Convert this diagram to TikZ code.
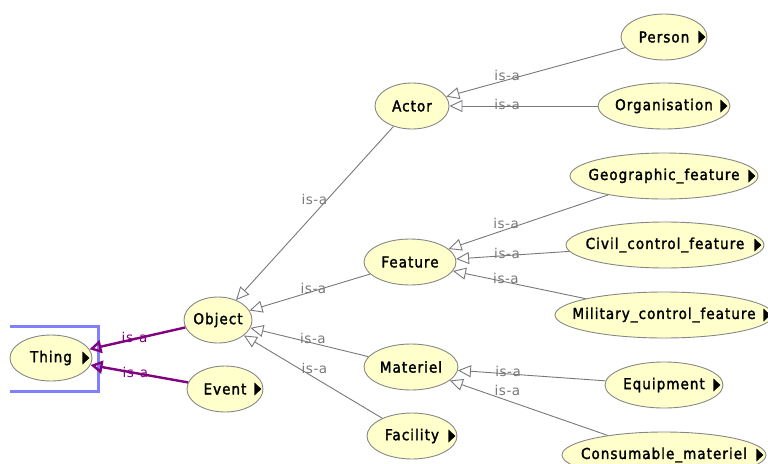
\documentclass[tikz,border=0pt]{standalone}
\usepackage{fontspec}
\usetikzlibrary{shapes.geometric,arrows.meta}
\newfontfamily\clsfont[LetterSpace=7, FakeBold=2]{DejaVu Sans Condensed}
\newfontfamily\isafont[LetterSpace=4]{DejaVu Sans}
\definecolor{clsfill}{RGB}{255,255,204}
\definecolor{clsline}{RGB}{135,135,135}
\definecolor{isagray}{RGB}{120,120,120}
\definecolor{isapurple}{RGB}{128,0,128}
\definecolor{selblue}{RGB}{128,128,255}

\begin{document}
\begin{tikzpicture}[x=1pt, y=-1pt,
    cls/.style={ellipse, draw=clsline, fill=clsfill, line width=0.9pt,
        minimum height=46pt, minimum width=#1, inner sep=0pt},
    txt/.style={font=\clsfont\fontsize{15}{18}\selectfont, text=black, inner sep=0pt},
    isa/.style={draw=isagray, line width=0.9pt,
        -{Triangle[open, length=13pt, width=12pt]}},
    topisa/.style={draw=isapurple, line width=2.4pt,
        -{Triangle[open, length=12pt, width=13pt]}},
    lbl/.style={font=\isafont\fontsize{13.5}{16}\selectfont, text=isagray, inner sep=0pt}]
    \useasboundingbox (0,0) rectangle (768,463);
    \clip (0,0) rectangle (768,463);

    % selection box round Thing
    \draw[selblue, line width=3pt] (10,326.5) -- (98.5,326.5) -- (98.5,391.5) -- (10,391.5);

    \node[cls=82pt, label={[txt]center:Thing}] (thing) at (51,358) {};
    \node[cls=68pt, label={[txt]center:Object}] (object) at (218,320) {};
    \node[cls=76pt, label={[txt]center:Event}] (event) at (225,389) {};

    \node[cls=74pt, label={[txt]center:Actor}] (actor) at (412,106) {};
    \node[cls=92pt, label={[txt]center:Feature}] (feature) at (410,262) {};
    \node[cls=94pt, label={[txt]center:Materiel}] (materiel) at (411,367) {};
    \node[cls=90pt, label={[txt]center:Facility}] (facility) at (412,436) {};

    \node[cls=86pt, label={[txt]center:Person}] (person) at (664,37) {};
    \node[cls=132pt, label={[txt]center:Organisation}] (orga) at (664,106) {};
    \node[cls=188pt, label={[txt]center:Geographic\_feature}] (geo) at (664,176) {};
    \node[cls=198pt, label={[txt]center:Civil\_control\_feature}] (civil) at (665,245) {};
    \node[cls=218pt, label={[txt]center:Military\_control\_feature}] (military) at (664,315) {};
    \node[cls=118pt, label={[txt]center:Equipment}] (equip) at (664,385) {};
    \node[cls=204pt, label={[txt]center:Consumable\_materiel}] (consum) at (664,455) {};

    % is-a links, child -> parent
    \foreach \a/\b/\p/\dx/\dy in {person/actor/0.66/0/4.5, orga/actor/0.61/0/2,
            geo/feature/0.64/0/6, civil/feature/0.55/0/2.5, military/feature/0.6/0/4,
            equip/materiel/0.66/0/2, consum/materiel/0.635/0/10,
            actor/object/0.42/-13/0, feature/object/0.47/0/3,
            materiel/object/0.47/0/5, facility/object/0.49/0/9.5}
        \draw[isa] (\a) -- node[lbl, pos=\p, xshift=\dx pt, yshift=\dy pt] {is-a} (\b);

    \draw[topisa] (object) -- node[lbl, text=isapurple, pos=0.53, yshift=2pt] {is-a} (thing);
    \draw[topisa] (event) -- node[lbl, text=isapurple, pos=0.54, yshift=1pt] {is-a} (thing);

    % expand markers
    \foreach \n/\s in {thing/3, event/2, facility/2, person/2, orga/3, geo/3,
            civil/3, military/3, equip/3, consum/3}
        \fill ([xshift=-\s pt]\n.east) -- ++(-7,-6.5) -- ++(0,13) -- cycle;
\end{tikzpicture}
\end{document}
